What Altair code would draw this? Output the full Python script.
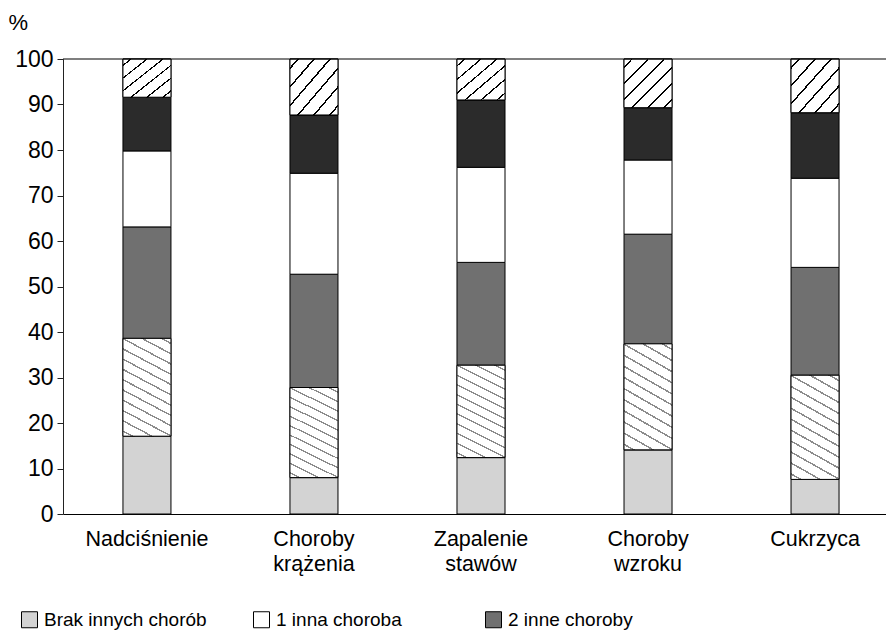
import altair as alt
import pandas as pd

# Disease groups on the x axis
categories = ["Nadciśnienie", "Choroby krążenia", "Zapalenie stawów", "Choroby wzroku", "Cukrzyca"]

# Number of other coexisting diseases (stack segments, bottom to top)
series = ["Brak innych chorób", "1 inna choroba", "2 inne choroby",
          "3 inne choroby", "4 inne choroby", "5 i więcej chorób"]

# Percent shares per disease group, one list per segment
brak = [17.1, 8.0, 12.4, 14.1, 7.6]
jedna = [21.5, 19.8, 20.3, 23.3, 22.9]
dwie = [24.5, 24.9, 22.6, 24.1, 23.7]
trzy = [16.7, 22.2, 20.9, 16.3, 19.6]
cztery = [11.8, 12.8, 14.8, 11.5, 14.4]
piec = [8.4, 12.3, 9.0, 10.7, 11.8]

y_ticks = [0, 10, 20, 30, 40, 50, 60, 70, 80, 90, 100]

values = [brak, jedna, dwie, trzy, cztery, piec]
rows = []
for s_idx, (name, vals) in enumerate(zip(series, values)):
    for c_idx, (cat, v) in enumerate(zip(categories, vals)):
        rows.append({"cat": cat, "cat_idx": c_idx, "series": name, "idx": s_idx, "value": v})
df = pd.DataFrame(rows)

FONT = "Liberation Sans"


def striped(n, half, ink, x1, y1, x2, y2, paper="white"):
    """Linear gradient with n thin hard-edged stripes (used as hatching)."""
    stops = [{"offset": 0.0, "color": paper}]
    for i in range(n):
        c = (i + 0.5) / n
        for off, col in ((c - half, paper), (c - half, ink), (c + half, ink), (c + half, paper)):
            stops.append({"offset": round(off, 4), "color": col})
    stops.append({"offset": 1.0, "color": paper})
    return {"gradient": "linear", "x1": x1, "y1": y1, "x2": x2, "y2": y2, "stops": stops}


# "\" dotted-looking hatching for the one-disease segment
k = 0.26
s = (1 + k) / (1 + k * k)
dotted_fill = striped(12, 0.0065, "#8c8c8c", 1.0, 0.0, 1 - k * s, s)
# "/" hatching for the top segment
hatch_fill = striped(6, 0.01, "#000000", 0.0, 0.0, 1.0, 1.0)

x_enc = alt.X(
    "cat:N",
    sort=categories,
    scale=alt.Scale(range=[0, 836], paddingInner=0.7126, paddingOuter=0.359),
    axis=alt.Axis(
        title=None, labelAngle=0, ticks=False, domain=True, domainColor="#000000",
        domainWidth=1.2, labelFont=FONT, labelFontSize=21.5, labelColor="#000000",
        labelPadding=14, labelLineHeight=25, labelBaseline="top",
        labelExpr="split(datum.label, ' ')",
    ),
)
y_enc = alt.Y(
    "lo:Q",
    scale=alt.Scale(domain=[0, 100], nice=False),
    axis=alt.Axis(
        values=y_ticks, grid=False, tickSize=6, tickColor="#222222", domainColor="#222222",
        labelFont=FONT, labelFontSize=23, labelColor="#000000", labelPadding=4,
        title="%", titleAngle=0, titleFont=FONT, titleFontSize=22, titleFontWeight="normal",
        titleColor="#000000", titleX=-55, titleY=-37, titleAlign="left", titleBaseline="middle",
    ),
)

base = alt.Chart(df).transform_stack(
    stack="value", as_=["lo", "hi"], groupby=["cat"], sort=[alt.SortField("idx", order="ascending")]
)

bars = base.mark_bar(stroke="#000000", strokeWidth=1).encode(
    x=x_enc,
    y=y_enc,
    y2="hi:Q",
    fill=alt.Fill(
        "series:N",
        sort=series,
        scale=alt.Scale(domain=series,
                        range=["#d3d3d3", "#ffffff", "#707070", "#ffffff", "#2b2b2b", "#ffffff"]),
        legend=alt.Legend(
            values=series[:3], title=None, orient="none", legendX=-43, legendY=551,
            direction="horizontal", columns=3, gridAlign="all", columnPadding=44,
            symbolType="square", symbolSize=256, symbolStrokeColor="#000000",
            symbolStrokeWidth=1, labelFont=FONT, labelFontSize=19, labelColor="#000000",
            labelOffset=5, labelLimit=300,
        ),
    ),
)

dotted = base.transform_filter("datum.idx == 1").mark_bar(
    fill=dotted_fill, stroke="#000000", strokeWidth=1
).encode(x=alt.X("cat:N", sort=categories), y="lo:Q", y2="hi:Q")

hatched = base.transform_filter("datum.idx == 5").mark_bar(
    fill=hatch_fill, stroke="#000000", strokeWidth=1
).encode(x=alt.X("cat:N", sort=categories), y="lo:Q", y2="hi:Q")

top_line = alt.Chart(pd.DataFrame({"v": [100]})).mark_rule(color="#000000", strokeWidth=1.2).encode(
    y=alt.Y("v:Q")
)

chart = alt.layer(bars, dotted, hatched, top_line).properties(
    width=823, height=455,
    autosize=alt.AutoSizeParams(type="none"),
    padding={"left": 63, "top": 59, "right": 0, "bottom": 121},
    background="#ffffff",
).configure_view(stroke=None)

chart.save("out.html", embed_options={"renderer": "svg", "actions": False})
